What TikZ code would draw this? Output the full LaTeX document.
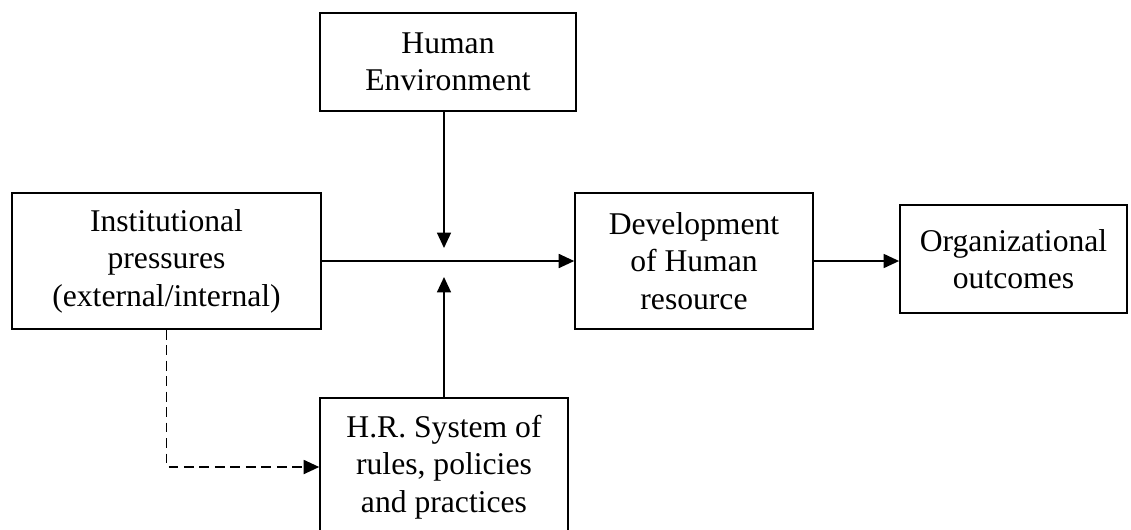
\documentclass[tikz,border=0pt]{standalone}
\usepackage{fontspec}
\setmainfont{Liberation Serif}
\usetikzlibrary{arrows.meta}
\begin{document}
\begin{tikzpicture}[x=0.025cm,y=-0.025cm,
  box/.style={draw,line width=1.1pt,align=center,inner sep=0pt,
    font=\fontsize{22.5pt}{26.7pt}\selectfont},
  link/.style={line width=1.1pt,-{Triangle[length=11pt,width=10pt]}}]
  \useasboundingbox (0,0) rectangle (1131,529);
  \node[box,minimum width=6.4cm,minimum height=2.45cm] (env) at (448,62)
    {Human\\Environment};
  \node[box,minimum width=7.72cm,minimum height=3.4cm] (inst) at (166.5,261)
    {Institutional\\pressures\\(external/internal)};
  \node[box,minimum width=5.95cm,minimum height=3.4cm] (dev) at (694,261)
    {Development\\of Human\\resource};
  \node[box,minimum width=5.68cm,minimum height=2.7cm] (org) at (1013.5,259)
    {Organizational\\outcomes};
  \node[box,minimum width=6.2cm,minimum height=3.45cm] (hr) at (444,467)
    {H.R. System of\\rules, policies\\and practices};
  \coordinate (tipA) at (444,248);
  \coordinate (tipB) at (444,277);
  \draw[link] (inst.east) -- (dev.west);
  \draw[link] (dev.east) -- (dev.east -| org.west);
  \draw[link] (env.south -| tipA) -- (tipA);
  \draw[link] (hr.north -| tipB) -- (tipB);
  \draw[link,dash pattern=on 7pt off 4pt] (inst.south) |- (hr.west);
\end{tikzpicture}
\end{document}
